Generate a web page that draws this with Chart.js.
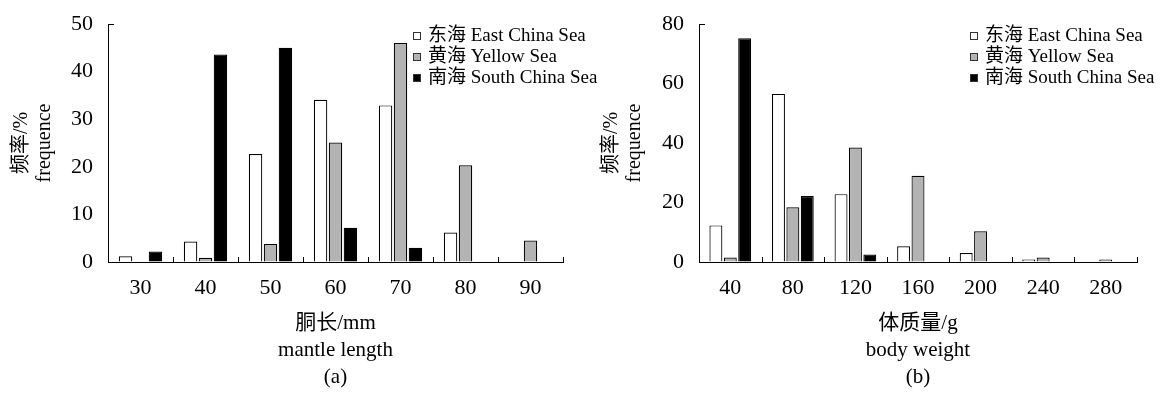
<!DOCTYPE html>
<html>
<head>
<meta charset="utf-8">
<script src="https://cdn.jsdelivr.net/npm/chart.js@4.4.1/dist/chart.umd.min.js"></script>
<style>
body{margin:0;background:#fff;width:1162px;height:394px;position:relative;overflow:hidden}
.panel{position:absolute;top:0;height:394px}
</style>
</head>
<body>
<div class="panel" style="left:0;width:600px"><canvas id="chartA" width="600" height="394"></canvas></div>
<div class="panel" style="left:590px;width:572px"><canvas id="chartB" width="572" height="394"></canvas></div>
<script>
let seriesNames = ["东海 East China Sea", "黄海 Yellow Sea", "南海 South China Sea"];
let seriesColors = ["#ffffff", "#b3b3b3", "#000000"];
let yTitle = ["频率/%", "frequence"];

// (a) mantle length
let lengthBins = ["30", "40", "50", "60", "70", "80", "90"];
let lengthEast = [1.2, 4.3, 22.7, 34.1, 32.9, 6.2, null];
let lengthYellow = [null, 0.9, 3.8, 25.1, 46.0, 20.3, 4.5];
let lengthSouth = [2.2, 43.6, 45.0, 7.2, 3.0, null, null];
let lengthCaption = ["胴长/mm", "mantle length", "(a)"];

// (b) body weight
let weightBins = ["40", "80", "120", "160", "200", "240", "280"];
let weightEast = [12.3, 56.5, 22.8, 5.3, 3.0, 0.8, null];
let weightYellow = [1.5, 18.4, 38.5, 29.0, 10.3, 1.5, 0.8];
let weightSouth = [75.2, 22.2, 2.5, null, null, null, null];
let weightCaption = ["体质量/g", "body weight", "(b)"];

const FONT = "'Liberation Serif', 'Noto Sans CJK SC', serif";
Chart.defaults.font.family = FONT;
Chart.defaults.color = "#000";

// inward ticks, legend and captions under the axis
const decor = {
	id: "decor",
	afterDraw(chart, args, opts) {
		const {ctx, chartArea: ca, scales: {x, y}} = chart;
		ctx.save();
		ctx.strokeStyle = "#000";
		ctx.lineWidth = 1;
		const n = chart.data.labels.length;
		const step = (x.right - x.left) / n;
		ctx.beginPath();
		for (let i = 1; i <= n; i++) {
			const px = Math.round(x.left + i * step) + 0.5;
			ctx.moveTo(px, ca.bottom);
			ctx.lineTo(px, ca.bottom - 5);
		}
		const top = Math.round(y.getPixelForValue(y.max)) + 0.5;
		ctx.moveTo(ca.left, top);
		ctx.lineTo(ca.left + 6, top);
		ctx.stroke();

		ctx.font = "19px " + FONT;
		ctx.textBaseline = "middle";
		chart.data.datasets.forEach((ds, i) => {
			const lx = Math.round(ca.right - opts.legendOffset);
			const ly = Math.round(ca.top + 12 + i * 21);
			ctx.fillStyle = ds.backgroundColor;
			ctx.fillRect(lx, ly - 4, 8, 8);
			ctx.strokeStyle = "#333";
			ctx.strokeRect(lx + 0.5, ly - 3.5, 7, 7);
			ctx.fillStyle = "#000";
			ctx.fillText(ds.label, lx + 15, ly);
		});

		ctx.font = "21px " + FONT;
		ctx.textAlign = "center";
		const cx = (ca.left + ca.right) / 2;
		opts.captions.forEach((t, i) => ctx.fillText(t, cx, ca.bottom + 61 + i * 27));
		ctx.restore();
	}
};

function makeChart(id, labels, series, yMax, yStep, yWidth, padRight, legendOffset, captions) {
	return new Chart(id, {
		type: "bar",
		data: {
			labels: labels,
			datasets: series.map((d, i) => ({
				label: seriesNames[i],
				data: d,
				backgroundColor: seriesColors[i],
				borderColor: "#000",
				borderWidth: 1.2,
				categoryPercentage: 0.69,
				barPercentage: 0.9
			}))
		},
		options: {
			responsive: false,
			animation: false,
			devicePixelRatio: 1,
			layout: { padding: { top: 24, right: padRight, left: 0, bottom: 0 } },
			plugins: {
				legend: { display: false },
				tooltip: { enabled: false },
				decor: { legendOffset: legendOffset, captions: captions }
			},
			scales: {
				x: {
					grid: { display: true, drawOnChartArea: false, drawTicks: false },
					border: { display: true, color: "#000", width: 1 },
					ticks: { font: { size: 22 }, padding: 13, maxRotation: 0 },
					afterFit: s => { s.height = 132; }
				},
				y: {
					min: 0,
					max: yMax,
					grid: { display: true, drawOnChartArea: false, drawTicks: false },
					border: { display: true, color: "#000", width: 1 },
					ticks: { stepSize: yStep, font: { size: 22 }, padding: 15 },
					title: { display: true, text: yTitle, font: { size: 20, lineHeight: 1.15 }, padding: { top: 10, bottom: 0 } },
					afterFit: s => { s.width = yWidth; s.paddingTop = 0; s.paddingBottom = 0; }
				}
			}
		},
		plugins: [decor]
	});
}

makeChart("chartA", lengthBins, [lengthEast, lengthYellow, lengthSouth], 50, 10, 108, 37, 150, lengthCaption);
makeChart("chartB", weightBins, [weightEast, weightYellow, weightSouth], 80, 20, 109, 25, 167, weightCaption);
</script>
</body>
</html>
